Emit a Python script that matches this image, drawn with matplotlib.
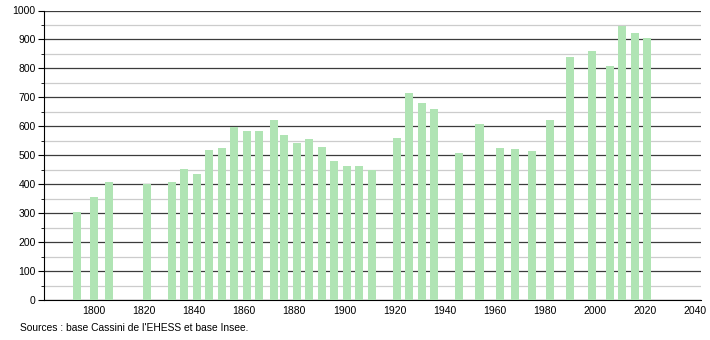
import matplotlib.pyplot as plt
from matplotlib.ticker import MultipleLocator

# census years and population
years = [1793, 1800, 1806, 1821, 1831, 1836, 1841, 1846, 1851, 1856,
         1861, 1866, 1872, 1876, 1881, 1886, 1891, 1896, 1901, 1906,
         1911, 1921, 1926, 1931, 1936, 1946, 1954, 1962, 1968, 1975,
         1982, 1990, 1999, 2006, 2011, 2016, 2021]
population = [304, 356, 408, 402, 408, 453, 435, 517, 525, 596,
              583, 584, 622, 570, 542, 557, 529, 480, 463, 463,
              448, 560, 716, 679, 660, 508, 608, 525, 522, 515,
              622, 839, 860, 808, 948, 922, 904]

xticks = list(range(1800, 2041, 20))
source = "Sources : base Cassini de l'EHESS et base Insee."

plt.rcParams['font.family'] = ['Liberation Sans', 'DejaVu Sans']

fig = plt.figure(figsize=(7.1, 3.4), dpi=100)
ax = fig.add_axes([44 / 710, 40 / 340, 657 / 710, 289.5 / 340])

ax.bar(years, population, width=3.2, color='#b0e4b4', zorder=3)

ax.set_xlim(1780, 2042.5)
ax.set_ylim(0, 1000)
ax.set_xticks(xticks)
ax.yaxis.set_major_locator(MultipleLocator(100))
ax.yaxis.set_minor_locator(MultipleLocator(50))

ax.grid(which='major', axis='y', color='#3c3c3c', linewidth=0.9, zorder=1)
ax.grid(which='minor', axis='y', color='#cccccc', linewidth=0.9, zorder=1)

for side in ['top', 'right']:
    ax.spines[side].set_visible(False)
ax.spines['left'].set_color('black')
ax.spines['bottom'].set_color('black')

ax.tick_params(axis='y', which='major', length=4, labelsize=7.5, pad=2)
ax.tick_params(axis='y', which='minor', length=2)
ax.tick_params(axis='x', length=0, labelsize=7.5, pad=4)

fig.text(20 / 710, 1 - 328 / 340, source, fontsize=7.4, va='center', ha='left')

fig.savefig('out.png', dpi=100)
